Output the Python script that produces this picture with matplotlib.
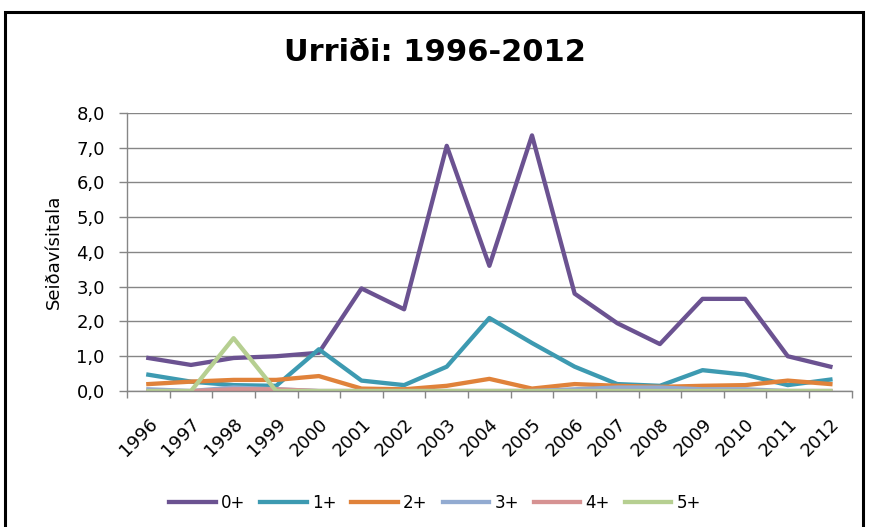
import numpy as np
import matplotlib; matplotlib.use("Agg")
import matplotlib.pyplot as plt
from matplotlib.patches import Rectangle
from matplotlib.ticker import FixedLocator

years = list(range(1996, 2013))
age_0 = [0.95, 0.75, 0.95, 1.0, 1.1, 2.95, 2.35, 7.05, 3.6, 7.35, 2.8, 1.95, 1.35, 2.65, 2.65, 1.0, 0.7]
age_1 = [0.47, 0.27, 0.17, 0.15, 1.2, 0.3, 0.17, 0.7, 2.1, 1.38, 0.7, 0.2, 0.15, 0.6, 0.47, 0.17, 0.33]
age_2 = [0.2, 0.27, 0.32, 0.32, 0.43, 0.07, 0.05, 0.15, 0.35, 0.07, 0.2, 0.15, 0.12, 0.15, 0.17, 0.3, 0.2]
age_3 = [0.05, 0.0, 0.1, 0.05, 0.0, 0.0, 0.0, 0.0, 0.0, 0.0, 0.05, 0.1, 0.1, 0.05, 0.05, 0.0, 0.0]
age_4 = [0.0, 0.0, 0.05, 0.05, 0.0, 0.0, 0.0, 0.0, 0.0, 0.0, 0.0, 0.0, 0.0, 0.0, 0.0, 0.0, 0.0]
age_5 = [0.0, 0.0, 1.52, 0.0, 0.0, 0.0, 0.0, 0.0, 0.0, 0.0, 0.0, 0.0, 0.0, 0.0, 0.0, 0.0, 0.0]
labels = ['0+', '1+', '2+', '3+', '4+', '5+']
colors = ['#6B5291', '#3D9AB1', '#E0823A', '#92ABD1', '#D69292', '#B6CF91']

fig = plt.figure(figsize=(8.7, 5.27), dpi=100)
fig.patch.set_facecolor("white")
ax = fig.add_axes([0.146, 0.258, 0.833, 0.528])

for vals, lbl, col in zip([age_0, age_1, age_2, age_3, age_4, age_5], labels, colors):
    ax.plot(years, vals, color=col, linewidth=3.1, label=lbl)

ax.set_xlim(1995.5, 2012.5)
ax.set_ylim(0, 8)
ax.set_yticks(np.arange(0, 9, 1))
ax.set_yticklabels([f'{v:.1f}'.replace('.', ',') for v in range(9)], fontsize=13)
ax.set_xticks(years)
ax.set_xticklabels([str(y) for y in years], rotation=45, ha='right',
                   rotation_mode='anchor', fontsize=13)
ax.xaxis.set_minor_locator(FixedLocator(np.arange(1995.5, 2013, 1)))
ax.tick_params(axis='x', which='major', length=0, pad=17)
ax.tick_params(axis='x', which='minor', length=5, color='#868686', width=1)
ax.tick_params(axis='y', length=6, color='#868686', width=1, pad=10)
ax.grid(True, axis='y', color='#868686', linewidth=1)
ax.set_axisbelow(True)
for s in ['top', 'right']:
    ax.spines[s].set_visible(False)
for s in ['left', 'bottom']:
    ax.spines[s].set_color('#868686')
    ax.spines[s].set_linewidth(1)

ax.set_ylabel('Seiðavísitala', fontsize=13, labelpad=10)
fig.text(0.5, 0.9, 'Urriði: 1996-2012', ha='center', va='center',
         fontsize=22, fontweight='bold')

fig.legend(loc='center', bbox_to_anchor=(0.5, 0.045), ncol=6, frameon=False,
           fontsize=12, handlelength=2.8, columnspacing=0.9, handletextpad=0.3)

fig.patches.append(Rectangle((0.006, -0.02), 0.986, 0.997, transform=fig.transFigure,
                             fill=False, edgecolor='black', linewidth=2.2))

plt.savefig('out.png', dpi=100, facecolor='white')
